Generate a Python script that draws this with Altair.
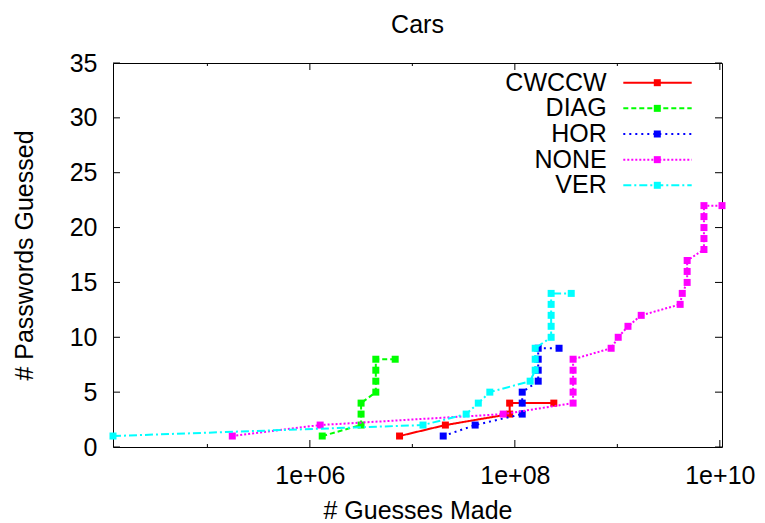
import altair as alt
import pandas as pd

FONT = "Liberation Sans"
FS = 25

series = ["CWCCW", "DIAG", "HOR", "NONE", "VER"]
colors = ["#ff0000", "#00ff00", "#0000ff", "#ff00ff", "#00ffff"]
dashes = [[1, 0], [5, 3], [2, 4], [2, 2], [8, 3, 2, 3]]

cwccw_x = [7.5e6, 2.1e7, 8.9e7, 8.9e7, 2.4e8]
cwccw_y = [1, 2, 3, 4, 4]

diag_x = [1.32e6, 3.16e6, 3.16e6, 3.16e6, 4.4e6, 4.4e6, 4.4e6, 4.4e6, 6.8e6]
diag_y = [1, 2, 3, 4, 5, 6, 7, 8, 8]

hor_x = [2.0e7, 4.1e7, 1.18e8, 1.18e8, 1.18e8, 1.69e8, 1.69e8, 1.69e8, 1.69e8, 2.7e8]
hor_y = [1, 2, 3, 4, 5, 6, 7, 8, 9, 9]

none_x = [1.75e5, 1.26e6, 7.7e7, 3.7e8, 3.7e8, 3.7e8, 3.7e8, 3.7e8, 8.7e8, 1.02e9,
          1.27e9, 1.71e9, 4.1e9, 4.3e9, 4.8e9, 4.8e9, 4.8e9, 7.0e9, 7.0e9, 7.0e9,
          7.0e9, 7.0e9, 1.05e10]
none_y = [1, 2, 3, 4, 5, 6, 7, 8, 9, 10, 11, 12, 13, 14, 15, 16, 17, 18, 19, 20, 21, 22, 22]

ver_x = [1.2e4, 1.27e7, 3.35e7, 4.4e7, 5.7e7, 1.41e8, 1.58e8, 1.58e8, 1.58e8, 2.26e8,
         2.26e8, 2.26e8, 2.26e8, 2.26e8, 3.55e8]
ver_y = [1, 2, 3, 4, 5, 6, 7, 8, 9, 10, 11, 12, 13, 14, 14]

xs = [cwccw_x, diag_x, hor_x, none_x, ver_x]
ys = [cwccw_y, diag_y, hor_y, none_y, ver_y]

x_domain = [1.2e4, 1.05e10]
y_domain = [0, 35]
y_ticks = [0, 5, 10, 15, 20, 25, 30, 35]
x_major = [1e6, 1e8, 1e10]
x_minor = [1e5, 1e7, 1e9]

W, H = 609, 384

x_axis = alt.Axis(
    values=x_major,
    labelExpr="'1e+' + format(round(log(datum.value)/LN10), '02d')",
    grid=False, ticks=False, tickSize=0, domain=False,
    labelPadding=36, labelBaseline="alphabetic", labelFlush=False, labelOverlap=False,
    labelFont=FONT, labelFontSize=FS, labelColor="black",
    title="# Guesses Made", titleFont=FONT, titleFontSize=FS, titleFontWeight="normal",
    titleColor="black", titleX=W / 2, titleY=71, titleBaseline="alphabetic",
    titleAlign="center",
)
y_axis = alt.Axis(
    values=y_ticks,
    grid=False, ticks=False, tickSize=0, domain=False,
    labelPadding=16, labelFont=FONT, labelFontSize=FS, labelColor="black",
    title="# Passwords Guessed", titleFont=FONT, titleFontSize=FS, titleFontWeight="normal",
    titleColor="black", titleX=-81, titleY=H / 2, titleBaseline="alphabetic",
    titleAngle=270, titleAlign="center",
)


def X(field):
    return alt.X(field, type="quantitative",
                 scale=alt.Scale(type="log", domain=x_domain, nice=False), axis=x_axis)


def Y(field):
    return alt.Y(field, type="quantitative",
                 scale=alt.Scale(domain=y_domain, nice=False, zero=False), axis=y_axis)


layers = []

# inward tick marks (gnuplot style)
yt = pd.DataFrame({"v": y_ticks})
layers.append(alt.Chart(yt).mark_rule(color="black", strokeWidth=1).encode(
    y=Y("v"), x=alt.value(0), x2=alt.value(7)))
layers.append(alt.Chart(yt).mark_rule(color="black", strokeWidth=1).encode(
    y=Y("v"), x=alt.value(W - 7), x2=alt.value(W)))
xmj = pd.DataFrame({"v": x_major})
xmn = pd.DataFrame({"v": x_minor})
for df, ln in ((xmj, 7), (xmn, 3)):
    layers.append(alt.Chart(df).mark_rule(color="black", strokeWidth=1).encode(
        x=X("v"), y=alt.value(H), y2=alt.value(H - ln)))
    layers.append(alt.Chart(df).mark_rule(color="black", strokeWidth=1).encode(
        x=X("v"), y=alt.value(0), y2=alt.value(ln)))

for name, c, d, xv, yv in zip(series, colors, dashes, xs, ys):
    df = pd.DataFrame({"guesses": xv, "passwords": yv, "i": range(len(xv))})
    base = alt.Chart(df)
    layers.append(base.mark_line(color=c, strokeWidth=2, strokeDash=d, clip=False).encode(
        x=X("guesses"), y=Y("passwords"), order="i:Q"))
    layers.append(base.mark_point(shape="square", filled=True, size=49, color=c,
                                  opacity=1, clip=False).encode(
        x=X("guesses"), y=Y("passwords")))

main = alt.layer(*layers)

# legend (gnuplot style: labels left, samples right)
leg_y = alt.Y("series:N", scale=alt.Scale(type="point", domain=series,
                                           range=[19.7, 122.3], padding=0), axis=None)
leg_layers = []
for name, c, d in zip(series, colors, dashes):
    ldf = pd.DataFrame({"series": [name]})
    leg_layers.append(alt.Chart(ldf).mark_rule(color=c, strokeWidth=2, strokeDash=d).encode(
        y=leg_y, x=alt.value(510.3), x2=alt.value(578.7)))
    leg_layers.append(alt.Chart(ldf).mark_point(shape="square", filled=True, size=49,
                                                color=c, opacity=1).encode(
        y=leg_y, x=alt.value(544.3)))
ltext = pd.DataFrame({"series": series})
leg_layers.append(alt.Chart(ltext).mark_text(align="right", baseline="middle", font=FONT,
                                             fontSize=FS, color="black").encode(
    y=leg_y, x=alt.value(493.7), text="series:N"))
legend = alt.layer(*leg_layers)

chart = alt.layer(main, legend).resolve_scale(y="independent").properties(
    width=W, height=H,
    autosize=alt.AutoSizeParams(type="none"),
    padding={"left": 113, "top": 63, "right": 43, "bottom": 76},
    title=alt.TitleParams(text="Cars", font=FONT, fontSize=FS, fontWeight="normal",
                          color="black", offset=-6.5, baseline="alphabetic", anchor="middle"),
    background="white",
).configure_view(stroke="black", strokeWidth=1)

chart.save("out.html", embed_options={"renderer": "svg", "actions": False})
